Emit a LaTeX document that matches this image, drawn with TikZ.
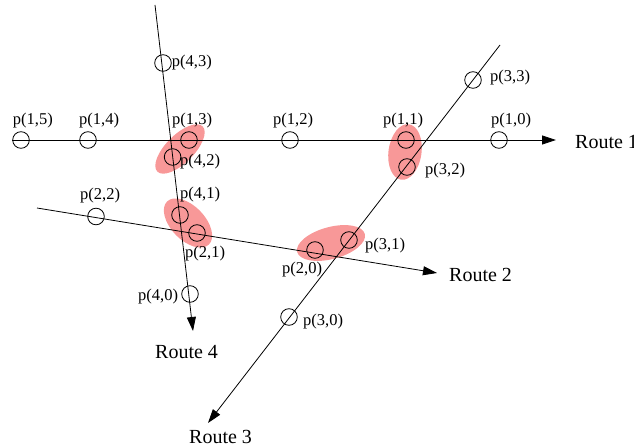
\documentclass[tikz,border=0pt]{standalone}
\usepackage{fontspec}
\setmainfont{Liberation Serif}
\usetikzlibrary{arrows.meta}
\definecolor{blobcol}{RGB}{248,152,152}
\begin{document}
\begin{tikzpicture}[x=1pt,y=-1pt,
  route/.style={line width=0.8pt,-{Triangle[length=14pt,width=9pt]}},
  pt/.style={circle,draw,line width=0.8pt,minimum size=16.6pt,inner sep=0pt},
  lab/.style={anchor=base west,inner sep=0pt,font=\fontsize{16.5}{18}\selectfont},
  rlab/.style={anchor=base west,inner sep=0pt,font=\fontsize{20}{22}\selectfont},
  blob/.style={fill=blobcol}]
\useasboundingbox (0,0) rectangle (634,446);
% blobs
\fill[blob,rotate around={45:(180,149)}] (180,149) ellipse [x radius=32pt,y radius=14pt];
\fill[blob,rotate around={-46:(188,223)}] (188,223) ellipse [x radius=30pt,y radius=17pt];
\fill[blob,rotate around={15:(331,243)}] (331,243) ellipse [x radius=35pt,y radius=16pt];
\fill[blob,rotate around={82:(405,152)}] (405,152) ellipse [x radius=28pt,y radius=16.5pt];
% route end points
\coordinate (r1s) at (12,140);
\coordinate (r1e) at (556,140);
\coordinate (r2s) at (37,208);
\coordinate (r2e) at (437,273);
\coordinate (r3s) at (500,45);
\coordinate (r3e) at (208,423);
\coordinate (r4s) at (155,5);
\coordinate (r4e) at (193,331);
\draw[route] (r1s) -- (r1e);
\draw[route] (r2s) -- (r2e);
\draw[route] (r3s) -- (r3e);
\draw[route] (r4s) -- (r4e);
% points
\node[pt] (p15) at (21,140) {};
\node[pt] (p14) at (88,140) {};
\node[pt] (p13) at (189,140) {};
\node[pt] (p12) at (290,140) {};
\node[pt] (p11) at (406,140) {};
\node[pt] (p10) at (499,140) {};
\node[pt] (p43) at (163,63) {};
\node[pt] (p42) at (172.6,157) {};
\node[pt] (p41) at (180,215) {};
\node[pt] (p40) at (190,294) {};
\node[pt] (p22) at (96,216.5) {};
\node[pt] (p21) at (197,233) {};
\node[pt] (p20) at (315,250) {};
\node[pt] (p33) at (473,80) {};
\node[pt] (p32) at (407,167) {};
\node[pt] (p31) at (349,240) {};
\node[pt] (p30) at (289,317) {};
% labels
\node[lab] (l15) at (12.7,125) {p(1,5)};
\node[lab] (l14) at (79,125) {p(1,4)};
\node[lab] (l13) at (172,125) {p(1,3)};
\node[lab] (l12) at (273,125) {p(1,2)};
\node[lab] (l11) at (383,125) {p(1,1)};
\node[lab] (l10) at (491,125) {p(1,0)};
\node[lab] (l43) at (171.7,67) {p(4,3)};
\node[lab] (l42) at (180,166) {p(4,2)};
\node[lab] (l41) at (180,199) {p(4,1)};
\node[lab] (l40) at (138,300) {p(4,0)};
\node[lab] (l22) at (80,200) {p(2,2)};
\node[lab] (l21) at (185,258) {p(2,1)};
\node[lab] (l20) at (282,273) {p(2,0)};
\node[lab] (l33) at (490,82) {p(3,3)};
\node[lab] (l32) at (425,175) {p(3,2)};
\node[lab] (l31) at (365,250) {p(3,1)};
\node[lab] (l30) at (303,325) {p(3,0)};
\node[rlab] (n1) at (575,149) {Route 1};
\node[rlab] (n2) at (449,281) {Route 2};
\node[rlab] (n3) at (189,443) {Route 3};
\node[rlab] (n4) at (155,358) {Route 4};
\end{tikzpicture}
\end{document}
